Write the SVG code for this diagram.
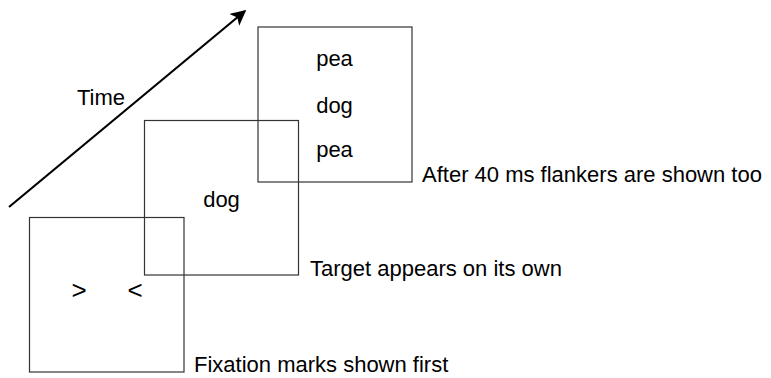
<svg xmlns="http://www.w3.org/2000/svg" width="771" height="378" viewBox="0 0 771 378">
<style>
.frame{fill:none;stroke:#333;stroke-width:1.2}
.t{font-family:"Liberation Sans",Arial,sans-serif;font-size:22px;fill:#000}
.m{text-anchor:middle}
.mk{font-size:26px}
</style>
<defs>
<marker id="ah" viewBox="0 0 10 10" refX="9" refY="5" markerWidth="7" markerHeight="7" orient="auto" markerUnits="strokeWidth">
<path d="M0,0 L10,5 L0,10 L2.5,5 Z" fill="#000"/>
</marker>
</defs>
<rect width="771" height="378" fill="#fff"/>
<g id="connectors">
<line x1="9" y1="207" x2="245" y2="11" stroke="#000" stroke-width="2.2" marker-end="url(#ah)"/>
</g>
<text id="time-label" class="t" x="77" y="105">Time</text>
<g id="fixation">
<rect class="frame" x="29.5" y="217.5" width="154.5" height="154.5"/>
<text class="t m mk" x="79" y="299">&gt;</text>
<text class="t m mk" x="135" y="299">&lt;</text>
<text class="t" x="194" y="372">Fixation marks shown first</text>
</g>
<g id="target">
<rect class="frame" x="144.5" y="120.5" width="154" height="154.5"/>
<text class="t m" x="221.5" y="206.5">dog</text>
<text class="t" x="310" y="276">Target appears on its own</text>
</g>
<g id="flankers">
<rect class="frame" x="258" y="27" width="154" height="155"/>
<text class="t m" x="334.5" y="66">pea</text>
<text class="t m" x="334.5" y="112.5">dog</text>
<text class="t m" x="334.5" y="156.5">pea</text>
<text class="t" x="422" y="181.5">After 40 ms flankers are shown too</text>
</g>
</svg>
